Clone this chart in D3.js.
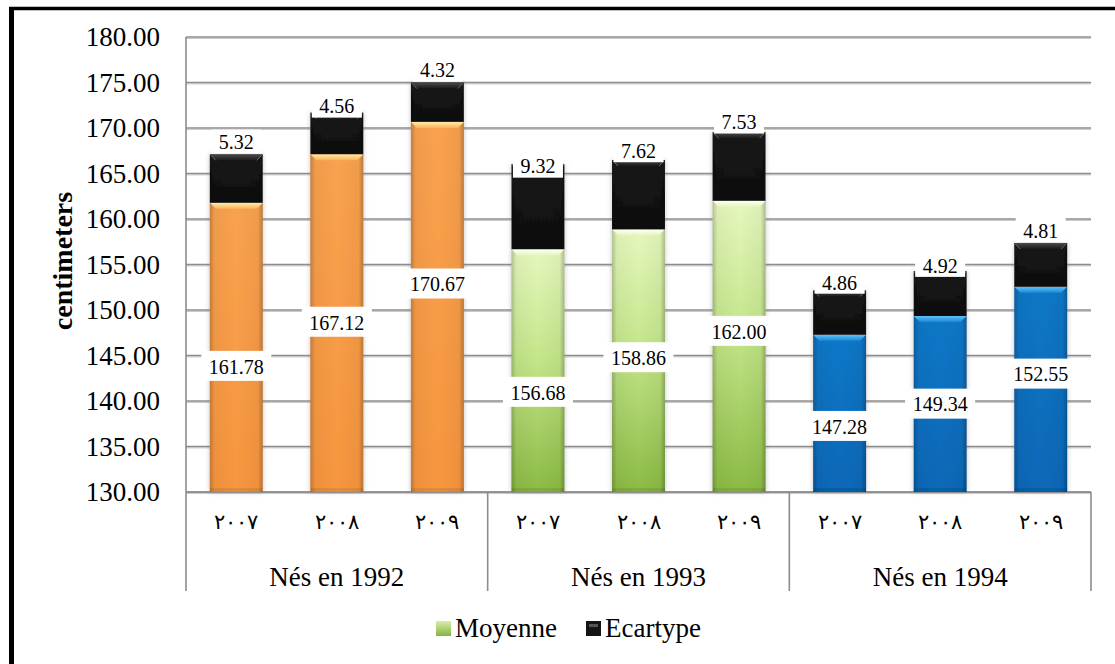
<!DOCTYPE html>
<html>
<head>
<meta charset="utf-8">
<script src="https://cdn.jsdelivr.net/npm/d3@7"></script>
<style>
  html, body { margin: 0; padding: 0; background: #fff; }
  svg { display: block; }
  text { font-family: "Liberation Serif", "Times New Roman", serif; fill: #000; }
</style>
</head>
<body>
<script>
// Heights (cm) by birth cohort and measurement year
const groups = ["Nés en 1992", "Nés en 1993", "Nés en 1994"];
const years = ["٢٠٠٧", "٢٠٠٨", "٢٠٠٩"];
const moyenne = [161.78, 167.12, 170.67, 156.68, 158.86, 162.00, 147.28, 149.34, 152.55];
const ecartype = [5.32, 4.56, 4.32, 9.32, 7.62, 7.53, 4.86, 4.92, 4.81];
const yTicks = [130, 135, 140, 145, 150, 155, 160, 165, 170, 175, 180];
// Where each value label sits, in axis units
const moyenneLabelAt = [143.75, 148.6, 152.8, 140.9, 144.7, 147.6, 137.15, 139.6, 142.9];
const ecartypeLabelAt = [168.4, 172.35, 176.3, 165.75, 167.45, 170.6, 153.0, 154.85, 158.7];
const seriesNames = ["Moyenne", "Ecartype"];

const W = 1115, H = 664;
const plot = { left: 186, right: 1091, top: 37, bottom: 492, axisBottom: 591 };

const svg = d3.select("body").append("svg").attr("width", W).attr("height", H);
const defs = svg.append("defs");

// ---- gradients & filters ----
function linGrad(id, vertical, stops) {
  const g = defs.append("linearGradient").attr("id", id)
    .attr("x1", 0).attr("y1", 0).attr("x2", vertical ? 0 : 1).attr("y2", vertical ? 1 : 0);
  stops.forEach(([o, c, op]) => g.append("stop").attr("offset", o).attr("stop-color", c)
    .attr("stop-opacity", op === undefined ? 1 : op));
}
linGrad("gOrange", true, [["0%", "#F9A24F"], ["100%", "#F7963F"]]);
linGrad("gGreen", true, [["0%", "#E6F8BE"], ["45%", "#C4E68A"], ["100%", "#8BBB43"]]);
linGrad("gBlue", true, [["0%", "#0A78C8"], ["100%", "#0768B8"]]);
linGrad("gBlack", true, [["0%", "#181818"], ["100%", "#0E0E0E"]]);
linGrad("bevOrange", true, [["0%", "#FFEEA6"], ["100%", "#FBB15E"]]);
linGrad("bevGreen", true, [["0%", "#FFFFF6"], ["100%", "#E4F6BF"]]);
linGrad("bevBlue", true, [["0%", "#5BC2FA"], ["100%", "#1C88D6"]]);
linGrad("bevBlack", true, [["0%", "#4A4A4A"], ["100%", "#1A1A1A"]]);
linGrad("edgeShade", false, [["0%", "#000", 0.22], ["9%", "#000", 0.04], ["50%", "#000", 0], ["91%", "#000", 0.04], ["100%", "#000", 0.25]]);
linGrad("legGreen", true, [["0%", "#D6EEA6"], ["100%", "#86B346"]]);

const shadow = defs.append("filter").attr("id", "barShadow")
  .attr("x", "-30%").attr("y", "-10%").attr("width", "160%").attr("height", "120%");
shadow.append("feDropShadow").attr("dx", 0).attr("dy", 0).attr("stdDeviation", 2.6)
  .attr("flood-color", "#7a7a7a").attr("flood-opacity", 0.45);

// ---- scales ----
const y = d3.scaleLinear().domain([130, 180]).range([plot.bottom, plot.top]);
const x = d3.scaleBand().domain(d3.range(moyenne.length))
  .range([plot.left, plot.right]).paddingInner(0.9 / 1.9).paddingOuter(0.45 / 1.9);
const xGroup = d3.scaleBand().domain(groups).range([plot.left, plot.right]);

// ---- outer frame ----
svg.append("line").attr("x1", 11.5).attr("x2", 11.5).attr("y1", 7).attr("y2", H).attr("stroke", "#000").attr("stroke-width", 5);
svg.append("line").attr("x1", 9).attr("x2", W).attr("y1", 8.5).attr("y2", 8.5).attr("stroke", "#000").attr("stroke-width", 3.5);

// ---- gridlines ----
const grid = svg.append("g");
yTicks.forEach(t => {
  grid.append("line").attr("x1", plot.left).attr("x2", plot.right)
    .attr("y1", y(t) + 1.4).attr("y2", y(t) + 1.4).attr("stroke", "#c4c4c4").attr("stroke-width", 1);
  grid.append("line").attr("x1", plot.left).attr("x2", plot.right)
    .attr("y1", y(t)).attr("y2", y(t)).attr("stroke", "#8c8c8c").attr("stroke-width", 1.6);
});

// ---- y axis ----
const yAxis = svg.append("g").attr("transform", `translate(${plot.left},0)`)
  .call(d3.axisLeft(y).tickValues(yTicks).tickSize(0).tickPadding(26).tickFormat(d3.format(".2f")));
yAxis.select(".domain").remove();
yAxis.selectAll("text").attr("font-size", 27).attr("font-family", "Liberation Serif").attr("fill", "#000");

svg.append("text").attr("transform", `translate(72,261) rotate(-90)`)
  .attr("text-anchor", "middle").attr("font-size", 28).attr("font-weight", "bold").text("centimeters");

// ---- category axis ----
const cat = svg.append("g");
cat.append("line").attr("x1", plot.left).attr("x2", plot.right).attr("y1", plot.bottom).attr("y2", plot.bottom)
  .attr("stroke", "#8c8c8c").attr("stroke-width", 1.6);
[plot.left, ...groups.map(g => xGroup(g) + xGroup.bandwidth())].forEach(xx => {
  cat.append("line").attr("x1", xx).attr("x2", xx).attr("y1", xx === plot.left ? plot.top : plot.bottom)
    .attr("y2", plot.axisBottom).attr("stroke", "#8c8c8c").attr("stroke-width", 1.6);
});
moyenne.forEach((_, i) => {
  cat.append("text").attr("x", x(i) + x.bandwidth() / 2).attr("y", 522).attr("dy", "0.35em")
    .attr("text-anchor", "middle").attr("font-family", "DejaVu Sans").attr("font-size", 21)
    .attr("letter-spacing", 4).text(years[i % 3]);
});
groups.forEach(g => {
  cat.append("text").attr("x", xGroup(g) + xGroup.bandwidth() / 2).attr("y", 577).attr("dy", "0.33em")
    .attr("text-anchor", "middle").attr("font-size", 27).text(g);
});

// ---- bars ----
const palettes = [
  { body: "url(#gOrange)", bevel: "url(#bevOrange)" },
  { body: "url(#gGreen)", bevel: "url(#bevGreen)" },
  { body: "url(#gBlue)", bevel: "url(#bevBlue)" }
];
const sdStyle = { body: "url(#gBlack)", bevel: "url(#bevBlack)" };

function segment(g, x0, w, yTop, yBot, style, bevelTop) {
  const h = yBot - yTop;
  g.append("rect").attr("x", x0).attr("y", yTop).attr("width", w).attr("height", h).attr("fill", style.body);
  g.append("rect").attr("x", x0).attr("y", yTop).attr("width", w).attr("height", h).attr("fill", "url(#edgeShade)");
  if (bevelTop) {
    const b = 6;
    g.append("path")
      .attr("d", `M${x0},${yTop} L${x0 + w},${yTop} L${x0 + w - b},${yTop + b} L${x0 + b},${yTop + b} Z`)
      .attr("fill", style.bevel);
  }
}

const bars = svg.append("g");
moyenne.forEach((m, i) => {
  const g = bars.append("g").attr("filter", "url(#barShadow)");
  const x0 = x(i), w = x.bandwidth();
  const pal = palettes[Math.floor(i / 3)];
  segment(g, x0, w, y(m), y(130), pal, true);
  const top = m + ecartype[i];
  segment(g, x0, w, y(top), y(m), sdStyle, true);
  // bevel corner highlights on the dark cap
  const b = 6;
  g.append("path")
    .attr("d", `M${x0 + 1},${y(top) + 1} L${x0 + b},${y(top) + b} M${x0 + w - 1},${y(top) + 1} L${x0 + w - b},${y(top) + b}`)
    .attr("stroke", "#6a6a6a").attr("stroke-width", 1).attr("fill", "none");
  // bottom shading of the column
  g.append("rect").attr("x", x0).attr("y", y(130) - 4).attr("width", w).attr("height", 4)
    .attr("fill", "#000").attr("opacity", 0.08);
});

// ---- value labels ----
const labels = svg.append("g");
function valueLabel(cx, cy, txt, bw, bh) {
  labels.append("rect").attr("x", cx - bw / 2).attr("y", cy - bh / 2 - 1).attr("width", bw).attr("height", bh).attr("fill", "#fff");
  labels.append("text").attr("x", cx).attr("y", cy).attr("dy", "0.34em").attr("text-anchor", "middle")
    .attr("font-size", 20).text(txt);
}
moyenne.forEach((m, i) => {
  valueLabel(x(i) + x.bandwidth() / 2, y(moyenneLabelAt[i]), m.toFixed(2), 70, 30);
});
ecartype.forEach((s, i) => {
  valueLabel(x(i) + x.bandwidth() / 2, y(ecartypeLabelAt[i]), s.toFixed(2), 50, 24);
});

// ---- legend ----
const legend = svg.append("g");
const legendItems = [
  { name: seriesNames[0], x: 436, fill: "url(#legGreen)" },
  { name: seriesNames[1], x: 586, fill: "#141414" }
];
legendItems.forEach(it => {
  legend.append("rect").attr("x", it.x).attr("y", 621).attr("width", 15).attr("height", 15).attr("fill", it.fill);
  if (it.fill === "#141414") {
    legend.append("rect").attr("x", it.x + 3).attr("y", 624).attr("width", 9).attr("height", 3).attr("fill", "#555");
  }
  legend.append("text").attr("x", it.x + 19).attr("y", 628).attr("dy", "0.33em").attr("font-size", 27).text(it.name);
});
</script>
</body>
</html>
